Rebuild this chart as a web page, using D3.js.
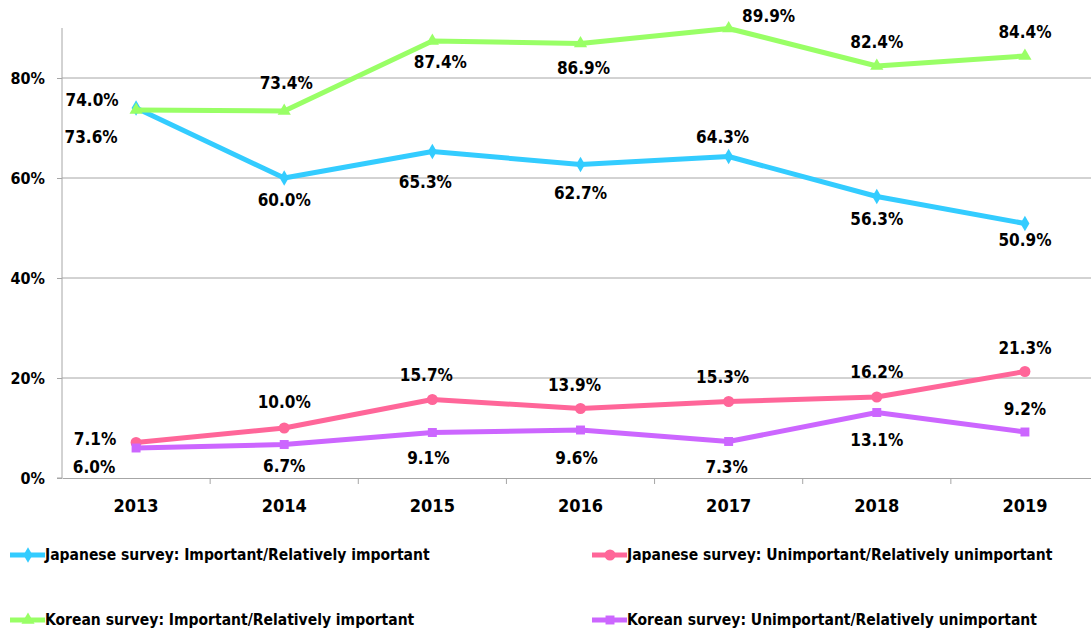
<!DOCTYPE html>
<html lang="en">
<head>
  <meta charset="UTF-8">
  <title>Survey importance 2013-2019</title>
  <script src="https://cdnjs.cloudflare.com/ajax/libs/d3/7.8.5/d3.min.js"></script>
  <style>
    body { margin: 0; background: #fff; }
    svg text { font-family: "DejaVu Sans Condensed", "DejaVu Sans", sans-serif; font-weight: bold; fill: #000; }
  </style>
</head>
<body>
  <div id="chart"></div>
  <script>
// data
var years = ["2013", "2014", "2015", "2016", "2017", "2018", "2019"];
var jpImportant = [74.0, 60.0, 65.3, 62.7, 64.3, 56.3, 50.9];
var krImportant = [73.6, 73.4, 87.4, 86.9, 89.9, 82.4, 84.4];
var jpUnimportant = [7.1, 10.0, 15.7, 13.9, 15.3, 16.2, 21.3];
var krUnimportant = [6.0, 6.7, 9.1, 9.6, 7.3, 13.1, 9.2];
var yTicks = [0, 20, 40, 60, 80];

// label nudges (pixels from point), one per point
var jpImpNudge = [[-44, -8], [0, 22], [-7, 31], [0, 29], [-6, -19], [0, 23], [0, 17]];
var krImpNudge = [[-45, 27], [2, -28], [8, 21], [3, 25], [40, -12], [0, -24], [0, -24]];
var jpUnNudge = [[-41, -3], [0, -26], [-6, -24], [-6, -23], [-6, -24], [0, -25], [0, -23]];
var krUnNudge = [[-42, 19], [0, 22], [-4, 26], [-4, 28], [-2, 26], [0, 28], [0, -23]];

var series = [
  { name: "Japanese survey: Important/Relatively important", values: jpImportant, color: "#33CCFF", marker: "diamond", nudge: jpImpNudge },
  { name: "Japanese survey: Unimportant/Relatively unimportant", values: jpUnimportant, color: "#FF6699", marker: "circle", nudge: jpUnNudge },
  { name: "Korean survey: Important/Relatively important", values: krImportant, color: "#99FF66", marker: "triangle", nudge: krImpNudge },
  { name: "Korean survey: Unimportant/Relatively unimportant", values: krUnimportant, color: "#CC66FF", marker: "square", nudge: krUnNudge }
];

var svgWidth = 1091;
var svgHeight = 632;
var margin = { top: 28, left: 62 };
var width = 1037;   // runs a bit past the right edge, like the original
var height = 450;

var svg = d3.select("#chart").append("svg")
  .attr("width", svgWidth)
  .attr("height", svgHeight);

var g = svg.append("g")
  .attr("transform", `translate(${margin.left}, ${margin.top})`);

var x = d3.scaleBand().domain(years).range([0, width]);
var y = d3.scaleLinear().domain([0, 90]).range([height, 0]);

// gridlines
g.selectAll(".grid")
  .data(yTicks.filter(d => d > 0))
  .enter()
  .append("line")
  .attr("x1", 0)
  .attr("x2", width)
  .attr("y1", d => y(d))
  .attr("y2", d => y(d))
  .attr("stroke", "#a6a6a6")
  .attr("stroke-width", 1);

// y axis
var leftAxis = d3.axisLeft(y)
  .tickValues(yTicks)
  .tickSize(5)
  .tickPadding(12)
  .tickFormat(d => d + "%");
var yAxisG = g.append("g").call(leftAxis);
yAxisG.select(".domain").attr("stroke", "#a6a6a6").attr("d", `M-5,${height}H0V0`);
yAxisG.selectAll(".tick line").attr("stroke", "#a6a6a6");
yAxisG.selectAll(".tick text").style("font-size", "16px");

// x axis
var bottomAxis = d3.axisBottom(x).tickSize(0).tickPadding(21);
var xAxisG = g.append("g")
  .attr("transform", `translate(0, ${height})`)
  .call(bottomAxis);
xAxisG.select(".domain").attr("stroke", "#a6a6a6");
xAxisG.selectAll(".tick text").style("font-size", "18px");
// category boundary ticks
xAxisG.selectAll(".bound")
  .data(years.slice(1))
  .enter()
  .append("line")
  .attr("x1", d => x(d))
  .attr("x2", d => x(d))
  .attr("y1", 0)
  .attr("y2", 6)
  .attr("stroke", "#a6a6a6");

function cx(i) { return x(years[i]) + x.bandwidth() / 2; }

function drawMarker(sel, type, color) {
  if (type === "circle") {
    sel.append("circle").attr("r", 5.5).attr("fill", color);
  } else {
    var sym = { diamond: d3.symbolDiamond, triangle: d3.symbolTriangle, square: d3.symbolSquare }[type];
    var size = { diamond: 70, triangle: 75, square: 80 }[type];
    sel.append("path").attr("d", d3.symbol().type(sym).size(size)).attr("fill", color);
  }
}

var line = d3.line()
  .x((d, i) => cx(i))
  .y(d => y(d));

series.forEach(function(s) {
  g.append("path")
    .datum(s.values)
    .attr("fill", "none")
    .attr("stroke", s.color)
    .attr("stroke-width", 5)
    .attr("stroke-linejoin", "round")
    .attr("d", line);

  s.values.forEach(function(v, i) {
    var m = g.append("g").attr("transform", `translate(${cx(i)}, ${y(v)})`);
    drawMarker(m, s.marker, s.color);
  });
});

// data labels
series.forEach(function(s) {
  g.selectAll(null)
    .data(s.values)
    .enter()
    .append("text")
    .attr("x", (d, i) => cx(i) + s.nudge[i][0])
    .attr("y", (d, i) => y(d) + s.nudge[i][1])
    .attr("dy", "0.35em")
    .attr("text-anchor", "middle")
    .style("font-size", "17px")
    .text(d => d.toFixed(1) + "%");
});

// legend
var legendPos = [[10, 555], [592, 555], [10, 620], [592, 620]];
series.forEach(function(s, i) {
  var lg = svg.append("g").attr("transform", `translate(${legendPos[i][0]}, ${legendPos[i][1]})`);
  lg.append("line")
    .attr("x1", 0).attr("x2", 35)
    .attr("y1", 0).attr("y2", 0)
    .attr("stroke", s.color)
    .attr("stroke-width", 5);
  drawMarker(lg.append("g").attr("transform", "translate(18, 0)"), s.marker, s.color);
  lg.append("text")
    .attr("x", 35)
    .attr("dy", "0.35em")
    .style("font-size", "15.5px")
    .text(s.name);
});
  </script>
</body>
</html>
